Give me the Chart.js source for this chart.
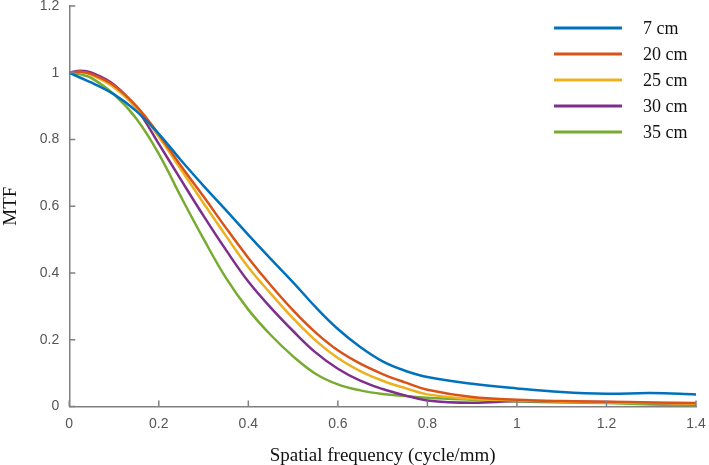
<!DOCTYPE html>
<html lang="en">
<head>
<meta charset="utf-8">
<title>MTF</title>
<script src="https://cdn.jsdelivr.net/npm/chart.js@4.4.1/dist/chart.umd.min.js"></script>
<style>
  html, body { margin: 0; padding: 0; background: #fff; }
  #wrap { width: 709px; height: 465px; }
</style>
</head>
<body>
<div id="wrap"><canvas id="mtfChart"></canvas></div>
<script>
// spatial frequency (cycle/mm)
const freq = [0, 0.025, 0.05, 0.1, 0.15, 0.2, 0.25, 0.3, 0.35, 0.4, 0.45, 0.5, 0.55, 0.6, 0.65, 0.7, 0.75, 0.8, 0.9, 1.0, 1.1, 1.2, 1.3, 1.4];

const mtf7  = [1.0, 0.985, 0.97, 0.935, 0.885, 0.817, 0.737, 0.661, 0.588, 0.514, 0.442, 0.372, 0.298, 0.232, 0.178, 0.135, 0.107, 0.088, 0.068, 0.054, 0.043, 0.038, 0.04, 0.036];
const mtf20 = [1.0, 1.003, 0.996, 0.962, 0.9, 0.815, 0.72, 0.629, 0.535, 0.445, 0.363, 0.288, 0.222, 0.168, 0.128, 0.097, 0.072, 0.05, 0.028, 0.02, 0.016, 0.014, 0.012, 0.01];
const mtf25 = [1.0, 1.002, 0.993, 0.956, 0.894, 0.808, 0.709, 0.609, 0.511, 0.417, 0.338, 0.264, 0.198, 0.145, 0.106, 0.077, 0.055, 0.036, 0.022, 0.018, 0.014, 0.012, 0.01, 0.008];
const mtf30 = [1.0, 1.006, 1.0, 0.964, 0.893, 0.787, 0.678, 0.571, 0.469, 0.374, 0.296, 0.226, 0.162, 0.113, 0.077, 0.052, 0.033, 0.018, 0.011, 0.016, 0.015, 0.013, 0.01, 0.007];
const mtf35 = [1.0, 0.995, 0.984, 0.935, 0.862, 0.757, 0.627, 0.502, 0.385, 0.29, 0.214, 0.15, 0.098, 0.066, 0.048, 0.037, 0.031, 0.026, 0.02, 0.015, 0.012, 0.01, 0.006, 0.003];

const labels = ["7 cm", "20 cm", "25 cm", "30 cm", "35 cm"];
const series = [mtf7, mtf20, mtf25, mtf30, mtf35];
const colors = ["#0072BD", "#D95319", "#EDB120", "#7E2F8E", "#77AC30"];

const axisGray = "#808080";

// ticks drawn inward, like the original plot
const inwardTicks = {
  id: "inwardTicks",
  afterDraw(chart) {
    const ctx = chart.ctx;
    const xs = chart.scales.x, ys = chart.scales.y;
    ctx.save();
    ctx.strokeStyle = axisGray;
    ctx.lineWidth = 1.5;
    ctx.beginPath();
    xs.ticks.forEach(t => {
      const px = xs.getPixelForValue(t.value);
      ctx.moveTo(px, ys.bottom);
      ctx.lineTo(px, ys.bottom - 6);
    });
    ys.ticks.forEach(t => {
      const py = ys.getPixelForValue(t.value);
      ctx.moveTo(xs.left, py);
      ctx.lineTo(xs.left + 6, py);
    });
    ctx.stroke();
    ctx.restore();
  }
};

// legend box in the upper right
const sideLegend = {
  id: "sideLegend",
  afterDraw(chart) {
    const ctx = chart.ctx;
    ctx.save();
    ctx.font = "18px 'Liberation Serif', 'Times New Roman', serif";
    ctx.textBaseline = "middle";
    chart.data.datasets.forEach((ds, i) => {
      const y = 28 + i * 26;
      ctx.strokeStyle = ds.borderColor;
      ctx.lineWidth = 3;
      ctx.beginPath();
      ctx.moveTo(554, y);
      ctx.lineTo(622, y);
      ctx.stroke();
      ctx.fillStyle = "#111";
      ctx.fillText(ds.label, 643, y + 1);
    });
    ctx.restore();
  }
};

const tickFont = { family: "'Liberation Sans', Arial, sans-serif", size: 14 };
const titleFont = { family: "'Liberation Serif', 'Times New Roman', serif", size: 19 };
const fmt = v => String(Number(v.toFixed(1)));

const ctx = document.getElementById("mtfChart").getContext("2d");
new Chart(ctx, {
  type: "line",
  data: {
    datasets: series.map((vals, i) => ({
      label: labels[i],
      data: freq.map((f, j) => ({ x: f, y: vals[j] })),
      borderColor: colors[i],
      backgroundColor: colors[i],
      borderWidth: 2.5,
      pointRadius: 0,
      tension: 0.4,
      fill: false
    }))
  },
  options: {
    responsive: true,
    maintainAspectRatio: false,
    animation: false,
    layout: { padding: { left: 0, right: 0, top: 0, bottom: -2 } },
    plugins: {
      legend: { display: false },
      tooltip: { enabled: false }
    },
    scales: {
      x: {
        type: "linear",
        min: 0,
        max: 1.4,
        afterFit: s => { s.paddingRight = 13; },
        ticks: { stepSize: 0.2, color: "#555", padding: 9, font: tickFont, callback: fmt },
        grid: { display: false, drawTicks: false },
        border: { display: true, color: axisGray, width: 1.5 },
        title: {
          display: true,
          text: "Spatial frequency (cycle/mm)",
          color: "#111",
          padding: { top: 3, bottom: 0 },
          font: titleFont
        }
      },
      y: {
        min: 0,
        max: 1.2,
        afterFit: s => { s.paddingTop = 6; },
        ticks: { stepSize: 0.2, color: "#555", padding: 10, font: tickFont, callback: fmt },
        grid: { display: false, drawTicks: false },
        border: { display: true, color: axisGray, width: 1.5 },
        title: {
          display: true,
          text: "MTF",
          color: "#111",
          padding: { top: 0, bottom: 7 },
          font: titleFont
        }
      }
    }
  },
  plugins: [inwardTicks, sideLegend]
});
</script>
</body>
</html>
